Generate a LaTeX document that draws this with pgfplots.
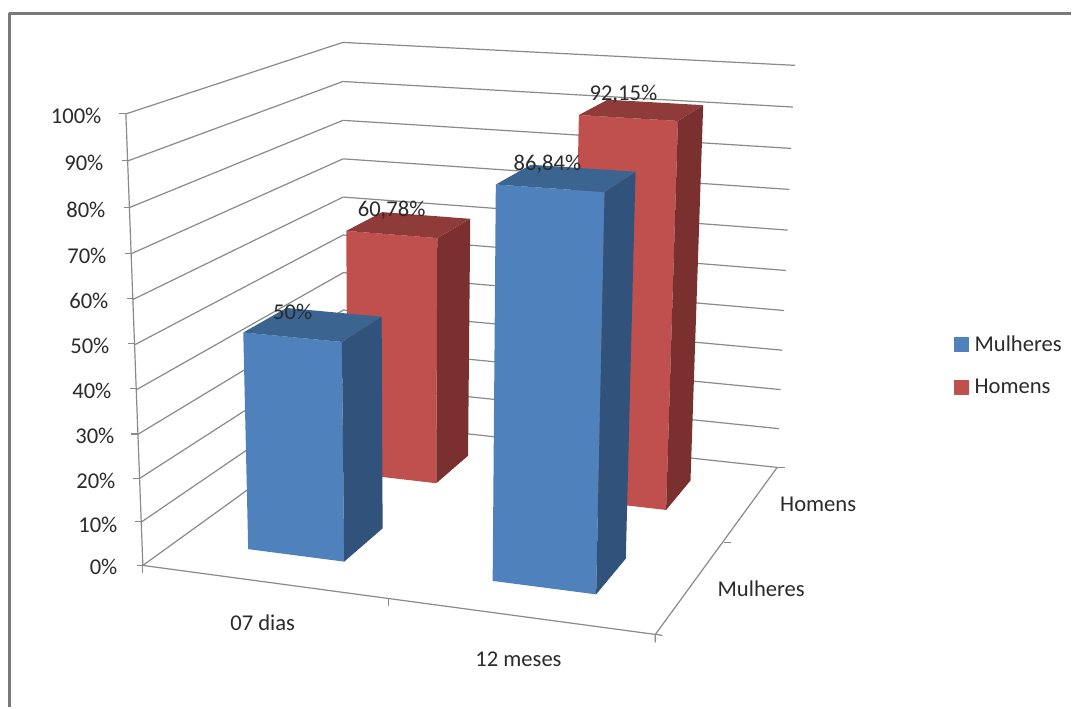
\documentclass[border=0pt]{standalone}
\usepackage{fontspec}
\setmainfont{Carlito}
\usepackage{pgfplots}
\pgfplotsset{compat=1.18}
\definecolor{blueFront}{HTML}{4F81BD}
\definecolor{blueSide}{HTML}{31527A}
\definecolor{blueTop}{HTML}{3B6491}
\definecolor{redFront}{HTML}{C0504D}
\definecolor{redSide}{HTML}{79302E}
\definecolor{redTop}{HTML}{8E3B39}
\definecolor{gridGray}{HTML}{8A8A8A}
\definecolor{labelInk}{HTML}{2B2B2B}
% Perspective of the box: u along the categories, v along the depth (both 0..1), w in percent.
\def\mapx{(464.06*\thisrow{u}+270.83*\thisrow{v}-0.2393*\thisrow{w}+0.04*\thisrow{v}*(1-\thisrow{u})*\thisrow{w}+143)/(1-0.07461*\thisrow{u}+0.203*\thisrow{v}-0.00055*\thisrow{w})}
\def\mapy{(21.70*\thisrow{u}-59.74*\thisrow{v}-4.571*\thisrow{w}+566)/(1-0.07461*\thisrow{u}+0.203*\thisrow{v}-0.00045*\thisrow{w})}
\pgfkeys{/pgfplots/table/box/.style={x expr=\mapx,y expr=\mapy,row sep=\\}}
% Three visible faces of a bar: u0 u1 v0 v1 value front side top
\newcommand{\barfaces}[8]{%
  \addplot[fill=#6,draw=none,forget plot] table[box] {u v w\\ #1 #3 0\\ #2 #3 0\\ #2 #3 #5\\ #1 #3 #5\\};
  \addplot[fill=#7,draw=none,forget plot] table[box] {u v w\\ #2 #3 0\\ #2 #4 0\\ #2 #4 #5\\ #2 #3 #5\\};
  \addplot[fill=#8,draw=none,forget plot] table[box] {u v w\\ #1 #3 #5\\ #2 #3 #5\\ #2 #4 #5\\ #1 #4 #5\\};
}
\newcommand{\lab}[3][center]{\node[anchor=#1,yshift=-1pt,text=labelInk,font=\fontsize{22.6}{26}\selectfont] at (axis cs:#2) {#3};}
\begin{document}
\begin{tikzpicture}
\begin{axis}[
  scale only axis, width=1072pt, height=708pt,
  xmin=0, xmax=1072, ymin=0, ymax=708, y dir=reverse,
  axis lines=none, clip=false, no markers,
  axis background/.style={fill=white},
  every axis plot/.append style={line join=round},
  legend style={draw=none, fill=none, at={(axis cs:955,334)}, anchor=north west,
    font=\fontsize{22.6}{26}\selectfont\color{labelInk}, row sep=22pt, inner sep=0pt},
  legend cell align=left,
  legend image code/.code={\fill[#1] (0pt,-7pt) rectangle (14pt,7pt); \path (18pt,0pt);},
]
% frame
\addplot[draw=gray!95!black,line width=2.2pt,forget plot] coordinates {(9.5,708) (9.5,13.5) (1072,13.5)};

% walls and floor
\pgfplotsinvokeforeach{0,10,...,100}{
  \addplot[gridGray,line width=1.2pt,forget plot] table[box] {u v w\\ 0 0 #1\\ 0 1 #1\\ 1 1 #1\\};
}
\addplot[gridGray,line width=1.2pt,forget plot] table[box] {u v w\\ 0 0 100\\ 0 0 0\\ 1 0 0\\ 1 1 0\\};

% tick marks
\addplot[gridGray,line width=1.2pt,forget plot] coordinates {(119,114) (126,114)};
\addplot[gridGray,line width=1.2pt,forget plot] coordinates {(122,161) (129,161)};
\addplot[gridGray,line width=1.2pt,forget plot] coordinates {(124,208) (131,208)};
\addplot[gridGray,line width=1.2pt,forget plot] coordinates {(125,254) (132,254)};
\addplot[gridGray,line width=1.2pt,forget plot] coordinates {(127,299) (134,299)};
\addplot[gridGray,line width=1.2pt,forget plot] coordinates {(128,344) (135,344)};
\addplot[gridGray,line width=1.2pt,forget plot] coordinates {(130,389) (137,389)};
\addplot[gridGray,line width=1.2pt,forget plot] coordinates {(131,434.5) (138,434.5)};
\addplot[gridGray,line width=1.2pt,forget plot] coordinates {(133,479) (140,479)};
\addplot[gridGray,line width=1.2pt,forget plot] coordinates {(135,522) (142,522)};
\addplot[gridGray,line width=1.2pt,forget plot] coordinates {(137,566) (143,566) (143,574)};
\addplot[gridGray,line width=1.2pt,forget plot] coordinates {(389,600) (389,607)};
\addplot[gridGray,line width=1.2pt,forget plot] coordinates {(656,643) (656,635) (663,636)};
\addplot[gridGray,line width=1.2pt,forget plot] coordinates {(725,543) (732,543)};
\addplot[gridGray,line width=1.2pt,forget plot] coordinates {(778,468) (786,468)};

% Homens row, behind
\barfaces{0.153}{0.353}{0.65}{0.85}{60.78}{redFront}{redSide}{redTop}
\barfaces{0.648}{0.848}{0.65}{0.85}{92.15}{redFront}{redSide}{redTop}
% Mulheres row, in front
\barfaces{0.15}{0.35}{0.15}{0.35}{50}{blueFront}{blueSide}{blueTop}
\barfaces{0.648}{0.848}{0.15}{0.35}{86.84}{blueFront}{blueSide}{blueTop}

% legend keys
\addlegendimage{blueFront}
\addlegendentry{Mulheres}
\addlegendimage{redFront}
\addlegendentry{Homens}

% value axis labels
\lab[east]{105,115}{100\%}
\lab[east]{107,162.5}{90\%}
\lab[east]{109,209.5}{80\%}
\lab[east]{110,255.5}{70\%}
\lab[east]{112,300.5}{60\%}
\lab[east]{113,345.5}{50\%}
\lab[east]{115,390.5}{40\%}
\lab[east]{118,435.5}{30\%}
\lab[east]{119,480.5}{20\%}
\lab[east]{121,524}{10\%}
\lab[east]{121,566.5}{0\%}

% category labels
\lab{263,622}{07 dias}
\lab{519,659}{12 meses}
\lab{819,504}{Homens}
\lab{762,588}{Mulheres}

% value labels
\lab{293,311}{50\%}
\lab{392,209}{60,78\%}
\lab{548,163}{86,84\%}
\lab{624,93}{92,15\%}
\end{axis}
\end{tikzpicture}
\end{document}
